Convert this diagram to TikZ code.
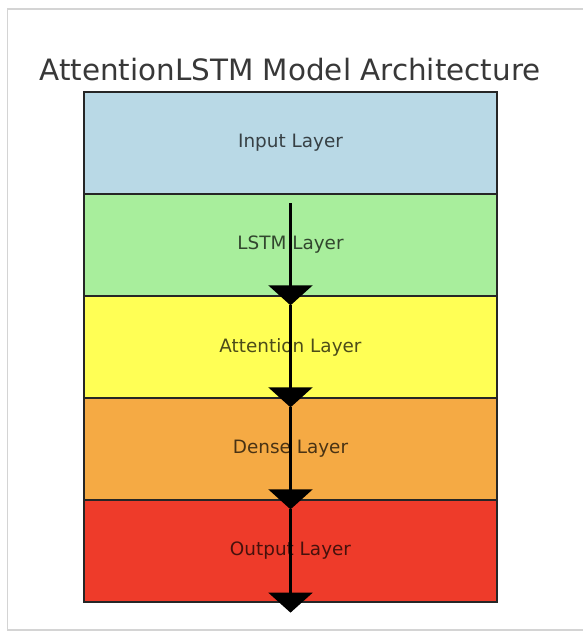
\documentclass[tikz,border=0pt]{standalone}
\usepackage{fontspec}
\setmainfont{DejaVu Sans}
\usepackage{tikz}
\usetikzlibrary{arrows.meta}
\definecolor{inputblue}{HTML}{B9D9E6}
\definecolor{lstmgreen}{HTML}{A8EE9C}
\definecolor{attnyellow}{HTML}{FFFF55}
\definecolor{denseorange}{HTML}{F5AA44}
\definecolor{outputred}{HTML}{EE3B2A}
\definecolor{framegray}{HTML}{D4D4D4}
\tikzstyle{layer} = [rectangle, draw=black!85, line width=1.3pt, minimum width=413pt, minimum height=102pt, inner sep=0pt, text=black, text opacity=0.7, font=\fontsize{18.4}{22}\selectfont]
\tikzstyle{line} = [draw, line width=2.2pt, -{Triangle[width=44pt,length=20pt]}]

\begin{document}
\begin{tikzpicture}[node distance = 102pt]
\useasboundingbox (0,0) rectangle (583pt,-632pt);
% page frame
\draw [framegray, line width=1.5pt] (583pt,-9pt) -- (7.5pt,-9pt) -- (7.5pt,-630pt) -- (583pt,-630pt);
\node [anchor=base, text=black!78, font=\fontsize{29.4}{34}\selectfont] (title) at (290pt,-80pt) {AttentionLSTM Model Architecture};
\node [layer, fill=inputblue] (input) at (290.5pt,-143pt) {Input Layer};
\node [layer, fill=lstmgreen, below of=input] (lstm) {LSTM Layer};
\node [layer, fill=attnyellow, below of=lstm] (attn) {Attention Layer};
\node [layer, fill=denseorange, below of=attn] (dense) {Dense Layer};
\node [layer, fill=outputred, below of=dense] (output) {Output Layer};
% Draw the edges
\path [line] ([yshift=-10pt]lstm.north) -- ([yshift=-10pt]attn.north);
\path [line] ([yshift=-10pt]attn.north) -- ([yshift=-10pt]dense.north);
\path [line] ([yshift=-10pt]dense.north) -- ([yshift=-10pt]output.north);
\path [line] ([yshift=-10pt]output.north) -- ([yshift=-10pt]output.south);
\end{tikzpicture}
\end{document}
